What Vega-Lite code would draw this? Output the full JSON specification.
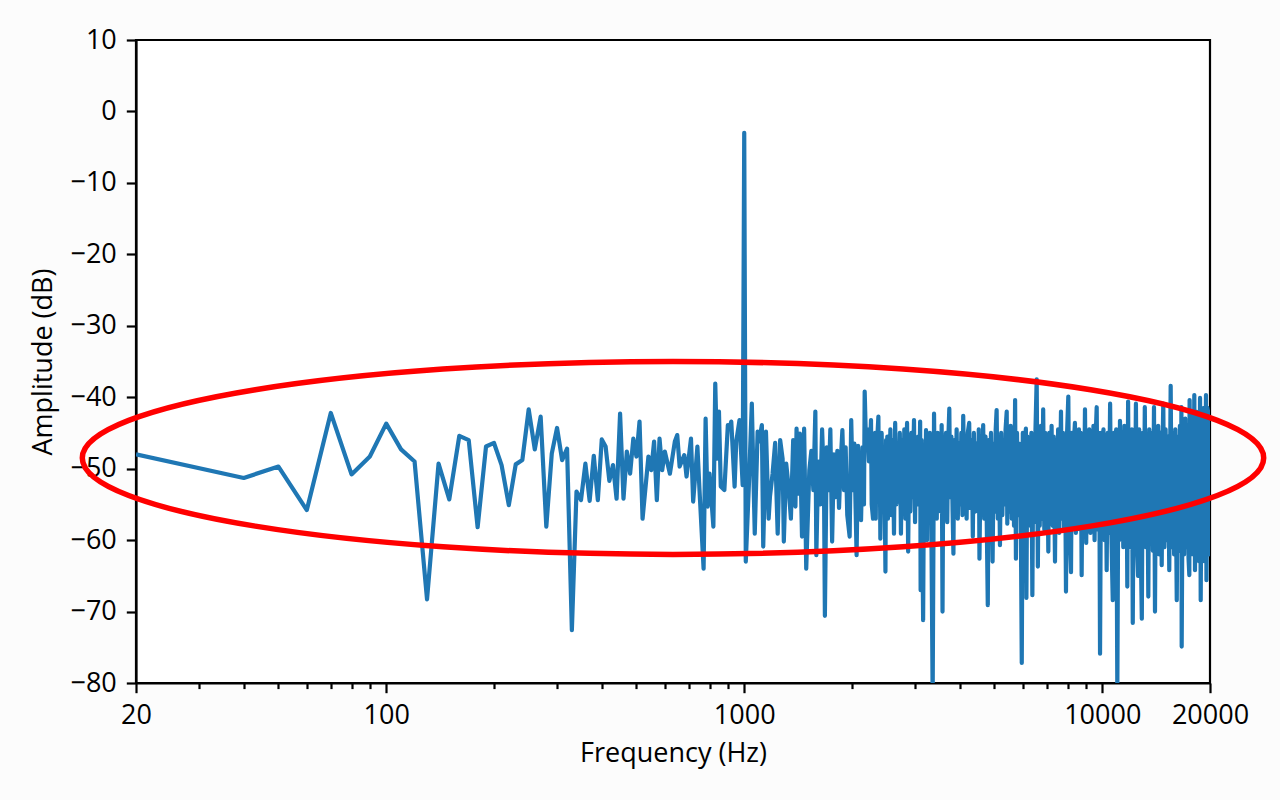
{
  "$schema": "https://vega.github.io/schema/vega-lite/v6.json",
  "width": 1074,
  "height": 643,
  "autosize": {"type": "none"},
  "padding": {"left": 136, "top": 40, "right": 70, "bottom": 117},
  "background": "#fcfcfc",
  "config": {
    "view": {"stroke": "black", "strokeWidth": 2.2, "fill": "white"},
    "axis": {
      "labelFont": "Open Sans", "titleFont": "Open Sans",
      "labelFontSize": 27, "titleFontSize": 27,
      "labelColor": "black", "titleColor": "black",
      "titleFontWeight": "normal",
      "domainColor": "black", "tickColor": "black",
      "domainWidth": 2.2, "tickWidth": 2.2,
      "grid": false, "zindex": 1,
      "labelFlush": false, "labelOverlap": false, "labelBound": false
    }
  },
  "layer": [
    {
      "data": {"values": [
        {"freq":20,"db":-48.0},{"freq":40,"db":-51.3},{"freq":50,"db":-49.7},{"freq":60,"db":-55.8},{"freq":70,"db":-42.2},{"freq":80,"db":-50.8},{"freq":90,"db":-48.3},{"freq":100,"db":-43.7},{"freq":110,"db":-47.3},{"freq":120,"db":-49.0},
        {"freq":130,"db":-68.3},{"freq":140,"db":-49.3},{"freq":150,"db":-54.3},{"freq":160,"db":-45.4},{"freq":170,"db":-46.0},{"freq":180,"db":-58.2},{"freq":190,"db":-46.9},{"freq":200,"db":-46.4},{"freq":210,"db":-49.5},{"freq":220,"db":-55.1},
        {"freq":230,"db":-49.4},{"freq":240,"db":-48.8},{"freq":250,"db":-41.7},{"freq":260,"db":-47.3},{"freq":270,"db":-42.7},{"freq":280,"db":-58.1},{"freq":290,"db":-47.9},{"freq":300,"db":-44.3},{"freq":310,"db":-48.8},{"freq":320,"db":-47.2},
        {"freq":330,"db":-72.6},{"freq":340,"db":-53.2},{"freq":350,"db":-54.4},{"freq":360,"db":-49.3},{"freq":370,"db":-54.5},{"freq":380,"db":-48.2},{"freq":390,"db":-54.4},{"freq":400,"db":-45.9},{"freq":410,"db":-46.9},{"freq":420,"db":-51.7},
        {"freq":430,"db":-49.5},{"freq":440,"db":-54.2},{"freq":450,"db":-42.3},{"freq":460,"db":-54.2},{"freq":470,"db":-47.6},{"freq":480,"db":-50.7},{"freq":490,"db":-45.8},{"freq":500,"db":-48.3},{"freq":510,"db":-43.4},{"freq":520,"db":-57.0},
        {"freq":540,"db":-48.3},{"freq":550,"db":-50.2},{"freq":560,"db":-46.2},{"freq":570,"db":-54.4},{"freq":580,"db":-45.8},{"freq":590,"db":-50.2},{"freq":600,"db":-47.6},{"freq":620,"db":-50.7},{"freq":640,"db":-46.2},{"freq":650,"db":-45.3},
        {"freq":660,"db":-49.7},{"freq":680,"db":-48.1},{"freq":690,"db":-51.1},{"freq":710,"db":-45.8},{"freq":720,"db":-54.6},{"freq":740,"db":-46.9},{"freq":750,"db":-53.0},{"freq":770,"db":-64.0},{"freq":780,"db":-43.0},{"freq":790,"db":-55.3},
        {"freq":800,"db":-50.7},{"freq":820,"db":-58.1},{"freq":830,"db":-38.1},{"freq":840,"db":-48.6},{"freq":850,"db":-42.0},{"freq":860,"db":-52.5},{"freq":880,"db":-53.0},{"freq":900,"db":-43.9},{"freq":910,"db":-44.4},{"freq":920,"db":-43.4},
        {"freq":940,"db":-52.5},{"freq":950,"db":-46.2},{"freq":970,"db":-43.2},{"freq":990,"db":-52.3},{"freq":1000,"db":-3.0},{"freq":1010,"db":-63.0},{"freq":1030,"db":-52.5},{"freq":1050,"db":-40.9},{"freq":1070,"db":-59.1},{"freq":1090,"db":-44.8},
        {"freq":1100,"db":-46.2},{"freq":1120,"db":-43.9},{"freq":1130,"db":-60.9},{"freq":1150,"db":-44.8},{"freq":1170,"db":-57.0},{"freq":1180,"db":-53.9},{"freq":1200,"db":-50.7},{"freq":1220,"db":-46.4},{"freq":1230,"db":-53.2},{"freq":1240,"db":-59.1},
        {"freq":1260,"db":-46.0},{"freq":1280,"db":-48.6},{"freq":1290,"db":-60.2},{"freq":1310,"db":-49.3},{"freq":1330,"db":-52.5},{"freq":1350,"db":-57.0},{"freq":1370,"db":-46.0},{"freq":1390,"db":-55.3},{"freq":1400,"db":-44.4},{"freq":1420,"db":-53.5},
        {"freq":1430,"db":-45.1},{"freq":1450,"db":-59.5},{"freq":1470,"db":-44.4},{"freq":1490,"db":-64.0},{"freq":1520,"db":-50.2},{"freq":1540,"db":-47.5},{"freq":1560,"db":-53},{"freq":1580,"db":-42},{"freq":1590,"db":-62.1},{"freq":1610,"db":-49},
        {"freq":1630,"db":-55},{"freq":1650,"db":-44.5},{"freq":1670,"db":-52},{"freq":1680,"db":-70.6},{"freq":1700,"db":-47},{"freq":1720,"db":-53},{"freq":1740,"db":-44.5},{"freq":1760,"db":-60.2},{"freq":1780,"db":-48},{"freq":1800,"db":-54},
        {"freq":1820,"db":-47.5},{"freq":1840,"db":-55.5},{"freq":1860,"db":-49},{"freq":1880,"db":-44.6},{"freq":1900,"db":-53},{"freq":1920,"db":-47},{"freq":1940,"db":-56.5},{"freq":1970,"db":-59.5},{"freq":1990,"db":-43.2},{"freq":2010,"db":-53},
        {"freq":2030,"db":-46.5},{"freq":2060,"db":-62.1},{"freq":2080,"db":-46.8},{"freq":2100,"db":-54},{"freq":2120,"db":-57.2},{"freq":2140,"db":-47},{"freq":2160,"db":-55},{"freq":2170,"db":-39.2},{"freq":2190,"db":-47},{"freq":2210,"db":-44.5},
        {"freq":2230,"db":-49},{"freq":2250,"db":-46},{"freq":2260,"db":-43.2},{"freq":2270,"db":-55},{"freq":2290,"db":-57},{"freq":2300,"db":-46},{"freq":2310,"db":-55},{"freq":2320,"db":-45},{"freq":2330,"db":-57},{"freq":2340,"db":-47},
        {"freq":2350,"db":-53},{"freq":2360,"db":-44.5},{"freq":2370,"db":-42.7},{"freq":2380,"db":-54},{"freq":2390,"db":-46},{"freq":2400,"db":-59.8},{"freq":2420,"db":-45},{"freq":2440,"db":-56},{"freq":2460,"db":-47},{"freq":2480,"db":-64.4},
        {"freq":2490,"db":-46},{"freq":2500,"db":-55},{"freq":2510,"db":-45.5},{"freq":2520,"db":-57},{"freq":2530,"db":-47},{"freq":2540,"db":-54},{"freq":2560,"db":-44.5},{"freq":2580,"db":-56.5},{"freq":2600,"db":-46},{"freq":2620,"db":-59.1},
        {"freq":2640,"db":-43.6},{"freq":2660,"db":-55},{"freq":2680,"db":-47.5},{"freq":2700,"db":-53},{"freq":2720,"db":-45},{"freq":2740,"db":-59.1},{"freq":2760,"db":-46},{"freq":2780,"db":-55.5},{"freq":2800,"db":-44.5},{"freq":2820,"db":-57},
        {"freq":2840,"db":-47},{"freq":2850,"db":-43.6},{"freq":2870,"db":-61.6},{"freq":2890,"db":-46},{"freq":2910,"db":-56},{"freq":2930,"db":-45},{"freq":2950,"db":-54},{"freq":2980,"db":-43.2},{"freq":3000,"db":-57.5},{"freq":3020,"db":-46},
        {"freq":3040,"db":-55},{"freq":3060,"db":-45.5},{"freq":3080,"db":-53},{"freq":3100,"db":-43.4},{"freq":3110,"db":-67},{"freq":3130,"db":-46},{"freq":3160,"db":-71.2},{"freq":3180,"db":-47},{"freq":3200,"db":-55},{"freq":3220,"db":-44.6},
        {"freq":3240,"db":-60},{"freq":3260,"db":-46.5},{"freq":3280,"db":-54},{"freq":3300,"db":-45},{"freq":3330,"db":-56},{"freq":3360,"db":-82},{"freq":3390,"db":-42.3},{"freq":3410,"db":-55},{"freq":3430,"db":-46},{"freq":3450,"db":-57},
        {"freq":3470,"db":-45},{"freq":3490,"db":-54.5},{"freq":3510,"db":-47},{"freq":3540,"db":-56},{"freq":3560,"db":-43.9},{"freq":3580,"db":-70},{"freq":3600,"db":-46},{"freq":3630,"db":-55},{"freq":3660,"db":-45},{"freq":3690,"db":-57.5},
        {"freq":3710,"db":-47},{"freq":3740,"db":-41.6},{"freq":3760,"db":-54},{"freq":3790,"db":-45.5},{"freq":3820,"db":-56},{"freq":3840,"db":-61.9},{"freq":3860,"db":-46},{"freq":3890,"db":-55},{"freq":3920,"db":-44.5},{"freq":3950,"db":-57},
        {"freq":3980,"db":-46.5},{"freq":4010,"db":-55},{"freq":4040,"db":-45},{"freq":4070,"db":-56.5},{"freq":4090,"db":-42.6},{"freq":4120,"db":-54},{"freq":4150,"db":-46},{"freq":4180,"db":-57},{"freq":4210,"db":-45},{"freq":4250,"db":-43.6},
        {"freq":4280,"db":-55.5},{"freq":4320,"db":-46},{"freq":4350,"db":-59.5},{"freq":4380,"db":-45},{"freq":4420,"db":-56},{"freq":4450,"db":-46.5},{"freq":4490,"db":-55},{"freq":4520,"db":-44.5},{"freq":4540,"db":-62.6},{"freq":4580,"db":-46},
        {"freq":4610,"db":-55},{"freq":4650,"db":-43.9},{"freq":4680,"db":-57},{"freq":4720,"db":-45.5},{"freq":4750,"db":-54.5},{"freq":4790,"db":-69.1},{"freq":4820,"db":-46},{"freq":4850,"db":-56},{"freq":4890,"db":-45},{"freq":4920,"db":-55.5},
        {"freq":4940,"db":-63},{"freq":4980,"db":-46.5},{"freq":5010,"db":-56},{"freq":5040,"db":-44.5},{"freq":5070,"db":-41.8},{"freq":5110,"db":-57},{"freq":5140,"db":-46},{"freq":5180,"db":-60.7},{"freq":5220,"db":-45},{"freq":5260,"db":-56.5},
        {"freq":5300,"db":-46},{"freq":5340,"db":-55},{"freq":5370,"db":-44.5},{"freq":5410,"db":-42},{"freq":5430,"db":-57.7},{"freq":5470,"db":-45.5},{"freq":5500,"db":-56},{"freq":5550,"db":-44},{"freq":5590,"db":-57},{"freq":5630,"db":-46},
        {"freq":5670,"db":-58},{"freq":5710,"db":-40.4},{"freq":5740,"db":-62.6},{"freq":5780,"db":-45},{"freq":5820,"db":-56.5},{"freq":5860,"db":-46.5},{"freq":5920,"db":-55},{"freq":5960,"db":-77.2},{"freq":6000,"db":-45},{"freq":6040,"db":-57},
        {"freq":6080,"db":-46},{"freq":6120,"db":-44.4},{"freq":6140,"db":-68.1},{"freq":6180,"db":-45.5},{"freq":6220,"db":-58},{"freq":6260,"db":-46},{"freq":6300,"db":-56},{"freq":6340,"db":-45},{"freq":6380,"db":-67.7},{"freq":6420,"db":-46.5},
        {"freq":6470,"db":-57.5},{"freq":6510,"db":-44.5},{"freq":6560,"db":-37.5},{"freq":6610,"db":-63.7},{"freq":6650,"db":-45.5},{"freq":6690,"db":-58},{"freq":6740,"db":-44},{"freq":6790,"db":-57},{"freq":6840,"db":-41.7},{"freq":6890,"db":-58.5},
        {"freq":6930,"db":-45},{"freq":6980,"db":-56},{"freq":7020,"db":-46},{"freq":7070,"db":-61.6},{"freq":7110,"db":-45},{"freq":7180,"db":-57},{"freq":7220,"db":-44},{"freq":7270,"db":-58},{"freq":7320,"db":-45.5},{"freq":7380,"db":-63},
        {"freq":7430,"db":-46},{"freq":7480,"db":-57.5},{"freq":7530,"db":-44.5},{"freq":7580,"db":-59},{"freq":7670,"db":-42},{"freq":7720,"db":-57},{"freq":7770,"db":-45},{"freq":7820,"db":-58.5},{"freq":7870,"db":-46},{"freq":7920,"db":-67.2},
        {"freq":7970,"db":-45.5},{"freq":8040,"db":-39.9},{"freq":8090,"db":-57},{"freq":8180,"db":-64.5},{"freq":8230,"db":-45},{"freq":8280,"db":-58},{"freq":8340,"db":-46},{"freq":8390,"db":-43.6},{"freq":8440,"db":-59},{"freq":8500,"db":-45.5},
        {"freq":8550,"db":-57.5},{"freq":8610,"db":-44.5},{"freq":8660,"db":-58.5},{"freq":8710,"db":-45},{"freq":8760,"db":-64.9},{"freq":8820,"db":-46},{"freq":8880,"db":-58},{"freq":8950,"db":-41.7},{"freq":9020,"db":-60.4},{"freq":9080,"db":-45},
        {"freq":9140,"db":-57.5},{"freq":9200,"db":-44.5},{"freq":9270,"db":-59},{"freq":9330,"db":-45.5},{"freq":9390,"db":-58},{"freq":9450,"db":-44},{"freq":9520,"db":-60},{"freq":9580,"db":-46},{"freq":9650,"db":-41.4},{"freq":9710,"db":-58.5},
        {"freq":9780,"db":-45},{"freq":9830,"db":-59},{"freq":9860,"db":-75.9},{"freq":9930,"db":-45},{"freq":10000,"db":-58},{"freq":10080,"db":-44.5},{"freq":10150,"db":-60},{"freq":10220,"db":-46},{"freq":10290,"db":-64.2},{"freq":10360,"db":-45},
        {"freq":10430,"db":-59},{"freq":10520,"db":-40.9},{"freq":10600,"db":-58.5},{"freq":10700,"db":-68.4},{"freq":10780,"db":-45},{"freq":10860,"db":-59},{"freq":10940,"db":-44.5},{"freq":11020,"db":-81},{"freq":11100,"db":-46},{"freq":11160,"db":-60},
        {"freq":11210,"db":-43.3},{"freq":11290,"db":-59.5},{"freq":11370,"db":-45},{"freq":11450,"db":-61},{"freq":11530,"db":-44},{"freq":11610,"db":-58.5},{"freq":11680,"db":-45.5},{"freq":11750,"db":-66.5},{"freq":11810,"db":-40.6},{"freq":11880,"db":-60},
        {"freq":11950,"db":-45},{"freq":12040,"db":-61},{"freq":12100,"db":-44.5},{"freq":12170,"db":-71.6},{"freq":12250,"db":-46},{"freq":12330,"db":-59},{"freq":12420,"db":-40.9},{"freq":12500,"db":-60.5},{"freq":12590,"db":-65},{"freq":12680,"db":-44.5},
        {"freq":12800,"db":-59.5},{"freq":12900,"db":-71},{"freq":12980,"db":-45},{"freq":13060,"db":-60},{"freq":13150,"db":-41.4},{"freq":13240,"db":-61},{"freq":13340,"db":-45.5},{"freq":13450,"db":-67.9},{"freq":13530,"db":-44.5},{"freq":13660,"db":-60},
        {"freq":13760,"db":-45},{"freq":13850,"db":-61.5},{"freq":13950,"db":-41.4},{"freq":14040,"db":-70},{"freq":14130,"db":-45.5},{"freq":14230,"db":-60.5},{"freq":14330,"db":-44},{"freq":14430,"db":-62},{"freq":14560,"db":-45},{"freq":14660,"db":-63.5},
        {"freq":14750,"db":-46},{"freq":14810,"db":-40.9},{"freq":14920,"db":-61},{"freq":15030,"db":-44.5},{"freq":15150,"db":-60},{"freq":15270,"db":-45.5},{"freq":15390,"db":-64.2},{"freq":15530,"db":-38.4},{"freq":15650,"db":-61},{"freq":15760,"db":-45},
        {"freq":15880,"db":-62},{"freq":16000,"db":-44.5},{"freq":16150,"db":-68.4},{"freq":16260,"db":-45.5},{"freq":16380,"db":-61.5},{"freq":16480,"db":-44},{"freq":16580,"db":-61},{"freq":16640,"db":-41.4},{"freq":16670,"db":-74.9},{"freq":16800,"db":-44},
        {"freq":16930,"db":-62},{"freq":17060,"db":-43},{"freq":17180,"db":-61},{"freq":17300,"db":-44},{"freq":17420,"db":-62.5},{"freq":17510,"db":-64.9},{"freq":17540,"db":-40.4},{"freq":17700,"db":-62},{"freq":17830,"db":-42.5},{"freq":17950,"db":-62},
        {"freq":18080,"db":-39.7},{"freq":18160,"db":-64.2},{"freq":18290,"db":-42},{"freq":18420,"db":-62},{"freq":18540,"db":-42.5},{"freq":18650,"db":-63},{"freq":18760,"db":-40.1},{"freq":18840,"db":-68.4},{"freq":18970,"db":-42},{"freq":19100,"db":-62},
        {"freq":19230,"db":-41.5},{"freq":19360,"db":-63},{"freq":19490,"db":-39.7},{"freq":19550,"db":-65.6},{"freq":19680,"db":-41.5},{"freq":19800,"db":-62},{"freq":19900,"db":-42},{"freq":20000,"db":-47}
      ]},
      "mark": {"type": "line", "color": "#1f77b4", "strokeWidth": 4.2, "strokeJoin": "round", "clip": true},
      "encoding": {
        "x": {
          "field": "freq", "type": "quantitative",
          "scale": {"type": "log", "domain": [20, 20000], "nice": false},
          "axis": {"title": "Frequency (Hz)", "values": [20, 100, 1000, 10000, 20000], "format": "d", "tickSize": 9.7, "labelPadding": 10, "titlePadding": 12, "orient": "bottom"}
        },
        "y": {
          "field": "db", "type": "quantitative",
          "scale": {"domain": [-80, 10], "nice": false, "zero": false},
          "axis": {"title": "Amplitude (dB)", "values": [-80, -70, -60, -50, -40, -30, -20, -10, 0, 10], "format": "d", "tickSize": 9.7, "labelPadding": 10, "titlePadding": 12}
        }
      }
    },
    {
      "data": {"values": [{"freq": 632.46, "db": -48.5}]},
      "mark": {
        "type": "point",
        "shape": "M-1,0C-1,-0.0902,-0.5523,-0.16328,0,-0.16328C0.5523,-0.16328,1,-0.0902,1,0C1,0.0902,0.5523,0.16328,0,0.16328C-0.5523,0.16328,-1,0.0902,-1,0Z",
        "size": 1395706,
        "filled": false,
        "color": "red",
        "stroke": "red",
        "strokeWidth": 5.5,
        "opacity": 1,
        "clip": false
      },
      "encoding": {
        "x": {
          "field": "freq", "type": "quantitative",
          "axis": {"values": [30, 40, 50, 60, 70, 80, 90, 200, 300, 400, 500, 600, 700, 800, 900, 2000, 3000, 4000, 5000, 6000, 7000, 8000, 9000], "labels": false, "domain": false, "tickSize": 5.6, "title": null, "orient": "bottom"}
        },
        "y": {"field": "db", "type": "quantitative", "axis": null}
      }
    }
  ],
  "resolve": {"axis": {"x": "independent", "y": "independent"}}
}
